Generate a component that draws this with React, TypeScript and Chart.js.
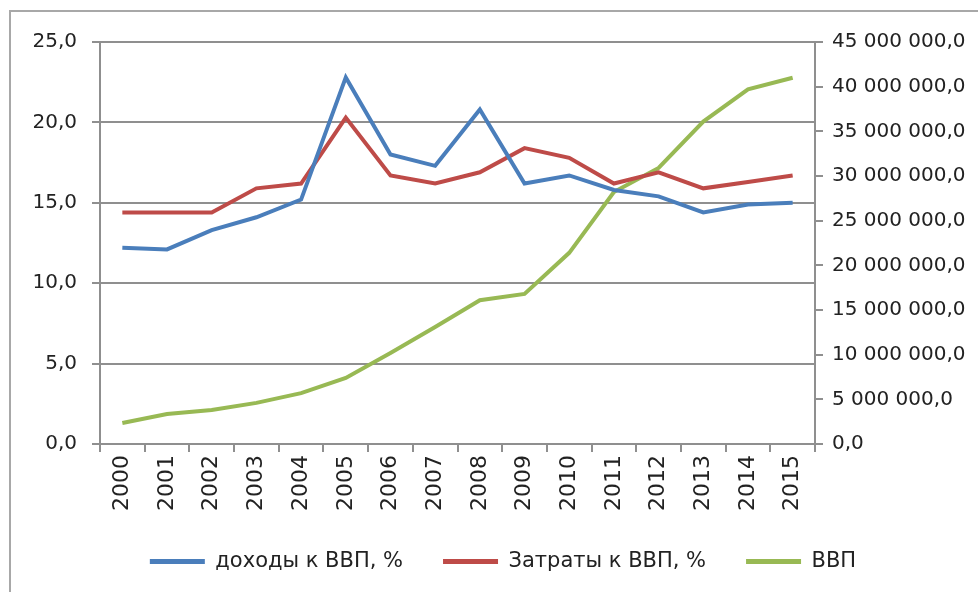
import React, { useEffect, useRef } from "react";
import { Chart, registerables } from "chart.js";

Chart.register(...registerables);

const years = ["2000", "2001", "2002", "2003", "2004", "2005", "2006", "2007", "2008", "2009", "2010", "2011", "2012", "2013", "2014", "2015"];
const incomeToGdp = [12.2, 12.1, 13.3, 14.1, 15.2, 22.8, 18.0, 17.3, 20.8, 16.2, 16.7, 15.8, 15.4, 14.4, 14.9, 15.0];
const spendingToGdp = [14.4, 14.4, 14.4, 15.9, 16.2, 20.3, 16.7, 16.2, 16.9, 18.4, 17.8, 16.2, 16.9, 15.9, 16.3, 16.7];
const gdp = [2350000, 3350000, 3800000, 4600000, 5700000, 7400000, 10200000, 13100000, 16100000, 16800000, 21400000, 28200000, 30900000, 36100000, 39700000, 41000000];
const seriesNames = ["доходы к ВВП, %", "Затраты к ВВП, %", "ВВП"];
const seriesColors = ["#4A7EBB", "#BE4B48", "#98B954"];

const fmtRu = (v: number) => {
  const fixed = Math.abs(v).toFixed(1);
  const [intPart, dec] = fixed.split(".");
  const grouped = intPart.replace(/\B(?=(\d{3})+(?!\d))/g, " ");
  return (v < 0 ? "-" : "") + grouped + "," + dec;
};

export default function App() {
  const ref = useRef<HTMLCanvasElement | null>(null);
  useEffect(() => {
    if (!ref.current) return;
    const font = "'DejaVu Sans', sans-serif";
    const grid = "#8f8f8f";
    const chart = new Chart(ref.current, {
      type: "line",
      data: {
        labels: years,
        datasets: [
          { label: seriesNames[0], data: incomeToGdp, borderColor: seriesColors[0], backgroundColor: seriesColors[0], borderWidth: 4, pointRadius: 0, tension: 0, yAxisID: "y" },
          { label: seriesNames[1], data: spendingToGdp, borderColor: seriesColors[1], backgroundColor: seriesColors[1], borderWidth: 4, pointRadius: 0, tension: 0, yAxisID: "y" },
          { label: seriesNames[2], data: gdp, borderColor: seriesColors[2], backgroundColor: seriesColors[2], borderWidth: 4, pointRadius: 0, tension: 0, yAxisID: "y1" },
        ],
      },
      options: {
        animation: false,
        responsive: false,
        maintainAspectRatio: false,
        layout: { padding: { top: 42, left: 28, right: 0, bottom: 58 } },
        plugins: {
          tooltip: { enabled: false },
          legend: {
            position: "bottom",
            align: "center",
            labels: {
              boxWidth: 55,
              boxHeight: 5,
              padding: 40,
              color: "#222",
              font: { family: font, size: 21 },
              generateLabels: (c: any) =>
                Chart.defaults.plugins.legend.labels.generateLabels(c).map((l: any) => ({ ...l, lineWidth: 0 })),
            },
          },
        },
        scales: {
          x: {
            type: "category",
            offset: true,
            afterFit: (s: any) => { s.height = 67; },
            grid: { display: true, drawOnChartArea: false, drawTicks: true, tickLength: 8, offset: true, color: grid, lineWidth: 2 },
            border: { display: true, color: grid, width: 2 },
            ticks: { minRotation: 90, maxRotation: 90, autoSkip: false, padding: 3, color: "#222", font: { family: font, size: 22 } },
          },
          y: {
            position: "left",
            min: 0,
            max: 25,
            afterFit: (s: any) => { s.width = 72; },
            grid: { color: grid, lineWidth: 2, drawTicks: true, tickLength: 8 },
            border: { display: true, color: grid, width: 2 },
            ticks: { stepSize: 5, padding: 15, color: "#222", font: { family: font, size: 20 }, callback: (v: any) => fmtRu(Number(v)) },
          },
          y1: {
            position: "right",
            min: 0,
            max: 45000000,
            afterFit: (s: any) => { s.width = 163; },
            grid: { drawOnChartArea: false, color: grid, lineWidth: 2, drawTicks: true, tickLength: 8 },
            border: { display: true, color: grid, width: 2 },
            ticks: { stepSize: 5000000, padding: 9, color: "#222", font: { family: font, size: 20 }, callback: (v: any) => fmtRu(Number(v)) },
          },
        },
      },
    });
    return () => chart.destroy();
  }, []);

  return (
    <div style={{ position: "absolute", left: 0, top: 0, width: 978, height: 592, overflow: "hidden", background: "#fff" }}>
      <canvas ref={ref} width={978} height={640} style={{ position: "absolute", left: 0, top: 0, width: 978, height: 640 }} />
      <div style={{ position: "absolute", left: 9, top: 10, width: 990, height: 600, borderLeft: "2px solid #a8a8a8", borderTop: "2px solid #a8a8a8", pointerEvents: "none" }} />
    </div>
  );
}
